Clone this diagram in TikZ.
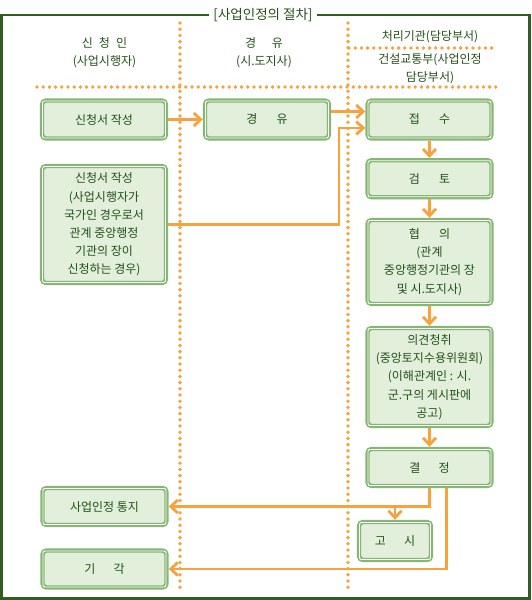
\documentclass[tikz,border=0pt]{standalone}
\usepackage{fontspec}
\usepackage{xcolor}
\usepackage{tikz}
\newfontfamily\kr{Noto Sans CJK KR}
\definecolor{frame}{HTML}{2F5E22}
\definecolor{leaf}{HTML}{86B673}
\definecolor{mint}{HTML}{E1EFDB}
\definecolor{ink}{HTML}{24501A}
\definecolor{orange}{HTML}{F7A23C}
\usetikzlibrary{arrows.meta,positioning}

\begin{document}
\begin{tikzpicture}[x=1pt,y=-1pt,
  box/.style={rectangle,rounded corners=4pt,draw=leaf,line width=4.4pt,fill=mint,
              minimum width=124pt,text=ink,align=center,inner sep=1pt,
              font=\kr\fontsize{12pt}{18.2pt}\selectfont},
  head/.style={text=ink,align=center,font=\kr\fontsize{12pt}{18pt}\selectfont},
  arr/.style={-{Straight Barb[length=7pt,width=13pt]},color=orange,line width=2.8pt},
  dots/.style={color=orange,line width=3.8pt,line cap=round,dash pattern=on 0pt off 6.2pt}]
  \useasboundingbox (0,0) rectangle (531,600);
  % frame and title
  \draw[frame,line width=2.7pt] (1.5,15) rectangle (529.5,598.5);
  \node[fill=white,text=ink,inner xsep=4pt,font=\kr\fontsize{13.5pt}{15pt}\selectfont] (title) at (263,15) {[사업인정의 절차]};
  % lanes
  \draw[dots] (180,23) -- (180,592);
  \draw[dots] (348,23) -- (348,592);
  \draw[dots] (37,87) -- (498,87);
  \draw[dots] (349,48) -- (495,48);
  \node[head] (h1) at (104.5,52.5) {신\hspace{0.5em}청\hspace{0.5em}인\\(사업시행자)};
  \node[head] (h2) at (264,52.5) {경\hspace{1.3em}유\\(시.도지사)};
  \node[head] (h3) at (430,37) {처리기관(담당부서)};
  \node[head] (h4) at (430,69) {건설교통부(사업인정\\담당부서)};
  % boxes
  \node[box,minimum height=38pt] (app) at (104,119.5) {신청서 작성};
  \node[box,minimum height=38pt] (via) at (267,119.5) {경\hspace{1.6em}유};
  \node[box,minimum height=117pt] (app2) at (104,224.5) {신청서 작성\\(사업시행자가\\국가인 경우로서\\관계 중앙행정\\기관의 장이\\신청하는 경우)};
  \node[box,minimum height=38pt] (rcv) at (429.5,119.5) {접\hspace{1.6em}수};
  \node[box,minimum height=37pt] (rev) at (429.5,178.7) {검\hspace{1.6em}토};
  \node[box,minimum height=84pt] (cons) at (429.5,262) {협\hspace{1.6em}의\\(관계\\중앙행정기관의 장\\및 시.도지사)};
  \node[box,minimum height=98pt] (hear) at (429.5,377) {의견청취\\(중앙토지수용위원회)\\(이해관계인 : 시.\\군.구의 게시판에\\공고)};
  \node[box,minimum height=37pt] (dec) at (429.5,467.5) {결\hspace{1.5em}정};
  \node[box,minimum height=37pt] (notif) at (104.5,506.5) {사업인정 통지};
  \node[box,minimum width=72pt,minimum height=38pt] (pub) at (395,541) {고\hspace{1.5em}시};
  \node[box,minimum height=37pt] (rej) at (104.5,569) {기\hspace{1.5em}각};
  \foreach \n in {app,via,app2,rcv,rev,cons,hear,dec,notif,pub,rej}
    \draw[white,line width=0.9pt,rounded corners=2pt]
      ([shift={(2.7pt,-2.7pt)}]\n.north west) rectangle ([shift={(-2.7pt,2.7pt)}]\n.south east);
  % flow
  \coordinate (bend) at (339,128);
  \draw[arr] (app) -- (via);
  \draw[arr] ([yshift=8pt]via.east) -- ([yshift=8pt]rcv.west);
  \draw[arr] (app2.east) -| (bend) -- (bend -| rcv.west);
  \draw[arr] (rcv) -- (rev);
  \draw[arr] (rev) -- (cons);
  \draw[arr] (cons) -- (hear);
  \draw[arr] (hear) -- (dec);
  \draw[arr] (dec.south) |- (notif.east);
  \draw[arr] (pub.north |- notif.east) -- (pub.north);
  \draw[arr] ([xshift=17pt]dec.south) |- (rej.east);
\end{tikzpicture}
\end{document}
